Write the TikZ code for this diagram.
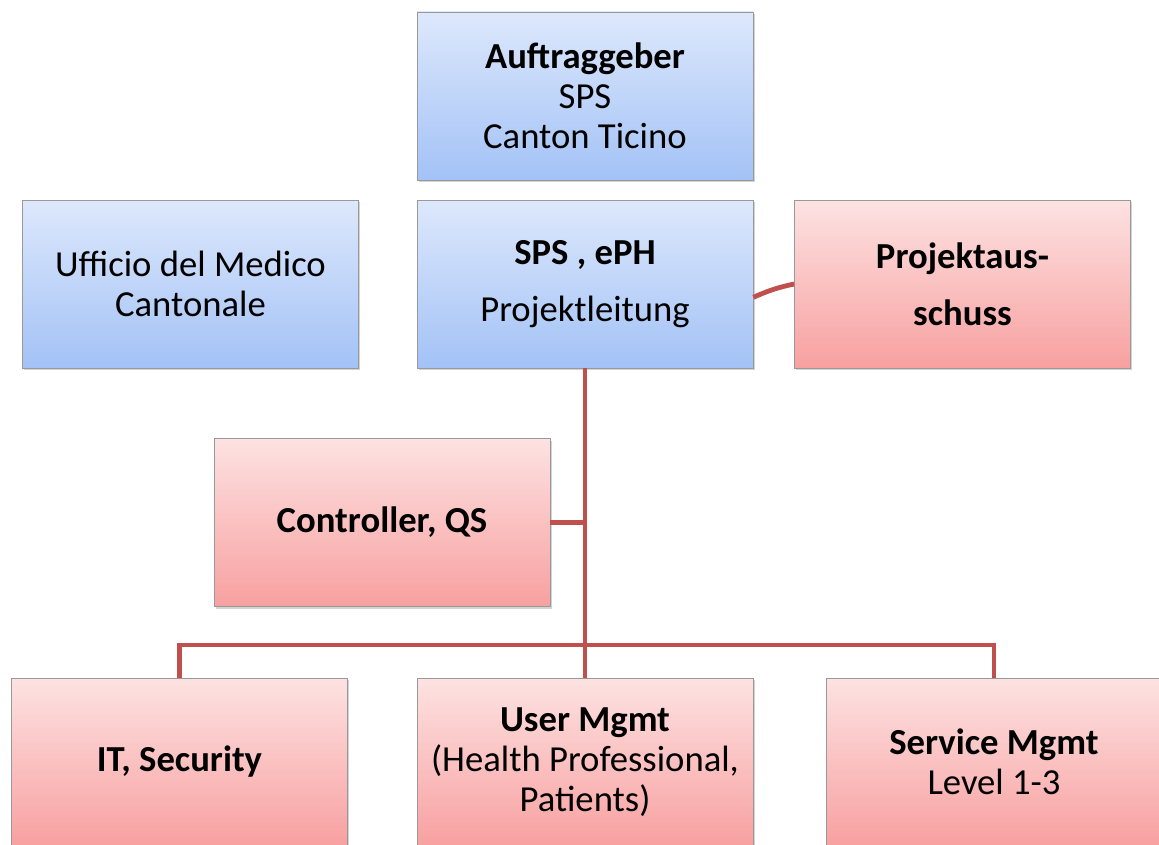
\documentclass[tikz,border=0pt]{standalone}
\usepackage{fontspec}
\setmainfont{Carlito}
\usepackage{tikz}
\usetikzlibrary{shadows,positioning}

\definecolor{linkred}{HTML}{C0504D}
\definecolor{bluetop}{RGB}{221,232,252}
\definecolor{bluebot}{RGB}{163,194,246}
\definecolor{redtop}{RGB}{253,226,226}
\definecolor{redbot}{RGB}{248,160,160}

\begin{document}
\begin{tikzpicture}
        [
            x=0.75pt, y=-0.75pt,
            box/.style={rectangle, draw=black!40, line width=0.6pt, align=center,
                minimum width=252pt, minimum height=126pt, inner sep=0pt,
                font=\fontsize{27.5}{30}\selectfont,
                drop shadow={shadow xshift=1.2pt, shadow yshift=-1.5pt, opacity=0.35}},
            bluebox/.style={box, top color=bluetop, bottom color=bluebot},
            redbox/.style={box, top color=redtop, bottom color=redbot},
            link/.style={draw=linkred, line width=3.6pt},
        ]
            \useasboundingbox (0,0) rectangle (1159,845);

            \node[bluebox] (auf) at (585, 96) {\textbf{Auftraggeber}\\SPS\\Canton Ticino};
            \node[bluebox] (uff) at (190.5, 284) {Ufficio del Medico\\Cantonale};
            \node[bluebox] (sps) at (585, 284) {\textbf{SPS , ePH}\\[13pt]Projektleitung};
            \node[redbox] (pa) at (962.5, 284) {\textbf{Projektaus-}\\[13pt]\textbf{schuss}};
            \node[redbox] (ctrl) at (382, 522.5) {\textbf{Controller, QS}};
            \node[redbox] (it) at (179.5, 762) {\textbf{IT, Security}};
            \node[redbox] (um) at (585, 762) {\textbf{User Mgmt}\\(Health Professional,\\Patients)};
            \node[redbox] (sm) at (994, 762) {\textbf{Service Mgmt}\\Level 1-3};

            \coordinate (bus) at (585, 645);

            \draw[link] ([yshift=-10pt]sps.east) to [bend left=6] (pa.west);
            \draw[link] (sps.south) -- (um.north);
            \draw[link] (ctrl.east) -- (ctrl.east -| sps.south);
            \draw[link] (it.north) |- (bus) -| (sm.north);
        \end{tikzpicture}
\end{document}
